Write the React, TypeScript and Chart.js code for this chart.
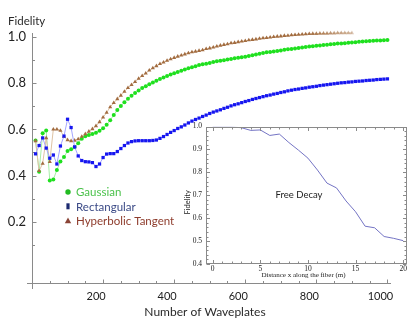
import React, { useEffect, useRef } from 'react';
import { Chart, registerables } from 'chart.js';

Chart.register(...registerables);

// ---------- main chart data ----------
const waveplates = [
  10, 20, 30, 40, 50, 60, 70, 80, 90, 100,
  110, 120, 130, 140, 150, 160, 170, 180, 190, 200,
  210, 220, 230, 240, 250, 260, 270, 280, 290, 300,
  310, 320, 330, 340, 350, 360, 370, 380, 390, 400,
  410, 420, 430, 440, 450, 460, 470, 480, 490, 500,
  510, 520, 530, 540, 550, 560, 570, 580, 590, 600,
  610, 620, 630, 640, 650, 660, 670, 680, 690, 700,
  710, 720, 730, 740, 750, 760, 770, 780, 790, 800,
  810, 820, 830, 840, 850, 860, 870, 880, 890, 900,
  910, 920, 930, 940, 950, 960, 970, 980, 990, 1000,
];

const gaussian = [
  0.552, 0.416, 0.583, 0.595, 0.378, 0.383, 0.424, 0.461, 0.480, 0.506,
  0.514, 0.524, 0.540, 0.560, 0.570, 0.576, 0.580, 0.585, 0.594, 0.605,
  0.620, 0.640, 0.662, 0.684, 0.702, 0.718, 0.733, 0.746, 0.758, 0.769,
  0.780, 0.787, 0.796, 0.803, 0.811, 0.819, 0.825, 0.832, 0.838, 0.843,
  0.849, 0.854, 0.860, 0.865, 0.870, 0.874, 0.879, 0.882, 0.885, 0.888,
  0.892, 0.895, 0.898, 0.900, 0.903, 0.905, 0.908, 0.911, 0.913, 0.915,
  0.918, 0.921, 0.925, 0.928, 0.931, 0.934, 0.936, 0.938, 0.940, 0.942,
  0.945, 0.947, 0.949, 0.951, 0.953, 0.955, 0.957, 0.959, 0.961, 0.963,
  0.964, 0.966, 0.967, 0.969, 0.970, 0.972, 0.973, 0.974, 0.976, 0.977,
  0.978, 0.980, 0.981, 0.982, 0.983, 0.984, 0.985, 0.986, 0.987, 0.988,
];

const rectangular = [
  0.494, 0.530, 0.563, 0.519, 0.475, 0.489, 0.450, 0.528, 0.571, 0.644,
  0.608, 0.524, 0.485, 0.465, 0.460, 0.459, 0.456, 0.439, 0.450, 0.478,
  0.493, 0.495, 0.495, 0.504, 0.517, 0.530, 0.541, 0.547, 0.550, 0.551,
  0.551, 0.551, 0.551, 0.552, 0.554, 0.561, 0.569, 0.578, 0.587, 0.595,
  0.604, 0.611, 0.619, 0.628, 0.636, 0.643, 0.649, 0.656, 0.662, 0.669,
  0.675, 0.680, 0.685, 0.691, 0.696, 0.702, 0.707, 0.711, 0.716, 0.721,
  0.725, 0.730, 0.734, 0.738, 0.742, 0.746, 0.749, 0.753, 0.756, 0.760,
  0.763, 0.767, 0.770, 0.773, 0.775, 0.778, 0.780, 0.783, 0.785, 0.787,
  0.790, 0.792, 0.794, 0.796, 0.798, 0.800, 0.802, 0.803, 0.805, 0.806,
  0.808, 0.809, 0.810, 0.812, 0.813, 0.814, 0.816, 0.817, 0.818, 0.819,
];

// hyperbolic tangent runs from 10 to 900 waveplates
const hyperbolicTangent = [
  0.550, 0.420, 0.452, 0.563, 0.459, 0.600, 0.600, 0.595, 0.569, 0.554,
  0.550, 0.552, 0.558, 0.569, 0.580, 0.591, 0.602, 0.615, 0.632, 0.652,
  0.673, 0.697, 0.715, 0.732, 0.747, 0.764, 0.780, 0.793, 0.806, 0.820,
  0.832, 0.843, 0.856, 0.866, 0.875, 0.884, 0.891, 0.898, 0.905, 0.911,
  0.916, 0.921, 0.926, 0.931, 0.935, 0.938, 0.941, 0.944, 0.949, 0.952,
  0.956, 0.960, 0.964, 0.967, 0.970, 0.974, 0.976, 0.979, 0.982, 0.984,
  0.987, 0.989, 0.991, 0.994, 0.996, 0.997, 0.999, 1.001, 1.003, 1.004,
  1.006, 1.007, 1.009, 1.010, 1.011, 1.012, 1.013, 1.014, 1.015, 1.015,
  1.016, 1.016, 1.016, 1.017, 1.017, 1.018, 1.018, 1.018, 1.018, 1.018,
];

const xTickValues = [200, 400, 600, 800, 1000];
const yTickValues = [0.2, 0.4, 0.6, 0.8, 1.0];
const seriesNames = ['Gaussian', 'Rectangular', 'Hyperbolic Tangent'];
const yAxisTitle = 'Fidelity';
const xAxisTitle = 'Number of Waveplates';

// ---------- inset data ----------
const distance = [0, 1, 2, 3, 4, 5, 6, 7, 8, 9, 10, 11, 12, 13, 14, 15, 16, 17, 18, 19, 20];
const freeDecay = [
  0.997, 0.997, 0.997, 0.995, 0.983, 0.985, 0.961, 0.967, 0.930, 0.897,
  0.862, 0.810, 0.753, 0.732, 0.675, 0.628, 0.565, 0.558, 0.520, 0.512, 0.502,
];
const insetXTicks = [0, 5, 10, 15, 20];
const insetYTicks = [0.4, 0.5, 0.6, 0.7, 0.8, 0.9, 1.0];
const insetXTitle = 'Distance x along the fiber (m)';
const insetYTitle = 'Fidelity';
const insetNote = 'Free Decay';

const SANS = 'Lato, "Open Sans", sans-serif';
const SERIF = '"Liberation Serif", "DejaVu Serif", serif';

const green = { line: '#a6eea6', point: '#1fe01f', text: '#4cc24c', legend: '#22bb22' };
const blue = { line: '#a4a4ff', point: '#1616f0', text: '#3b4a86', legend: '#1c2a70' };
const brown = { line: '#dec3a4', point: '#a26c40', text: '#8e3c2c', legend: '#8a4436' };

const mainDecor = {
  id: 'mainDecor',
  beforeDatasetsDraw(chart: any) {
    const { ctx, chartArea: a, scales } = chart;
    const x = scales.x;
    const y = scales.y;
    ctx.save();
    ctx.strokeStyle = '#8a8a8a';
    ctx.lineWidth = 1;
    const left = Math.round(a.left) + 0.5;
    const bottom = Math.round(a.bottom) + 0.5;
    ctx.beginPath();
    ctx.moveTo(a.left - 5, bottom);
    ctx.lineTo(a.right, bottom);
    ctx.moveTo(left, a.top + 3);
    ctx.lineTo(left, a.bottom + 6);
    ctx.stroke();
    ctx.beginPath();
    for (let v = 50; v <= 1000; v += 50) {
      const px = Math.round(x.getPixelForValue(v)) + 0.5;
      ctx.moveTo(px, bottom);
      ctx.lineTo(px, bottom - (v % 200 === 0 ? 4 : 2.5));
    }
    for (let i = 1; i <= 10; i++) {
      const v = i / 10;
      const py = Math.round(y.getPixelForValue(v)) + 0.5;
      ctx.moveTo(left, py);
      ctx.lineTo(left + (i % 2 === 0 ? 4 : 2.5), py);
    }
    ctx.stroke();
    ctx.restore();
  },
  afterDraw(chart: any) {
    const { ctx } = chart;
    ctx.save();
    ctx.fillStyle = '#2a2a2a';
    ctx.font = `11.5px ${SANS}`;
    ctx.textBaseline = 'middle';
    ctx.textAlign = 'left';
    ctx.fillText(yAxisTitle, 8, 21);
    ctx.font = `12px ${SANS}`;
    ctx.textAlign = 'center';
    ctx.fillText(xAxisTitle, 205, 312);

    const lx = 68;
    const ly = 192;
    const step = 14.3;
    const cols = [green, blue, brown];
    ctx.textAlign = 'left';
    ctx.font = `11.5px ${SANS}`;
    seriesNames.forEach((name, i) => {
      const cy = ly + i * step;
      ctx.fillStyle = cols[i].legend;
      ctx.beginPath();
      if (i === 0) {
        ctx.arc(lx, cy, 2.7, 0, Math.PI * 2);
      } else if (i === 1) {
        ctx.rect(lx - 1.6, cy - 3, 3.2, 6);
      } else {
        ctx.moveTo(lx, cy - 3);
        ctx.lineTo(lx + 3.2, cy + 2.6);
        ctx.lineTo(lx - 3.2, cy + 2.6);
        ctx.closePath();
      }
      ctx.fill();
      ctx.fillStyle = cols[i].text;
      ctx.fillText(name, lx + 8, cy + 0.5);
    });
    ctx.restore();
  },
};

const insetDecor = {
  id: 'insetDecor',
  beforeDraw(chart: any) {
    const { ctx, chartArea: a } = chart;
    ctx.save();
    ctx.fillStyle = '#ffffff';
    ctx.fillRect(a.left, a.top, a.right - a.left, a.bottom - a.top);
    ctx.restore();
  },
  afterDraw(chart: any) {
    const { ctx, chartArea: a, scales } = chart;
    const x = scales.x;
    const y = scales.y;
    ctx.save();
    ctx.strokeStyle = '#8a8a8a';
    ctx.lineWidth = 1;
    const L = Math.round(a.left) + 0.5;
    const R = Math.round(a.right) - 0.5;
    const T = Math.round(a.top) + 0.5;
    const B = Math.round(a.bottom) - 0.5;
    ctx.strokeRect(L, T, R - L, B - T);
    ctx.beginPath();
    for (let v = 0; v <= 20; v += 1) {
      const px = Math.round(x.getPixelForValue(v)) + 0.5;
      const len = v % 5 === 0 ? 3.5 : 2;
      ctx.moveTo(px, B);
      ctx.lineTo(px, B - len);
      ctx.moveTo(px, T);
      ctx.lineTo(px, T + len);
    }
    for (let i = 20; i <= 50; i += 1) {
      const v = i / 50;
      const py = Math.round(y.getPixelForValue(v)) + 0.5;
      const len = i % 5 === 0 ? 3.5 : 2;
      ctx.moveTo(L, py);
      ctx.lineTo(L + len, py);
      ctx.moveTo(R, py);
      ctx.lineTo(R - len, py);
    }
    ctx.stroke();

    ctx.fillStyle = '#222';
    ctx.textBaseline = 'middle';
    ctx.textAlign = 'left';
    ctx.font = `9.5px ${SANS}`;
    ctx.fillText(insetNote, x.getPixelForValue(6.6), y.getPixelForValue(0.7));

    ctx.font = `7px ${SERIF}`;
    ctx.textAlign = 'center';
    ctx.fillText(insetXTitle, (a.left + a.right) / 2 - 3, a.bottom + 11.5);

    ctx.translate(8, (a.top + a.bottom) / 2 + 7);
    ctx.rotate(-Math.PI / 2);
    ctx.font = `7.5px ${SANS}`;
    ctx.fillText(insetYTitle, 0, 0);
    ctx.restore();
  },
};

export default function App() {
  const mainRef = useRef<HTMLCanvasElement | null>(null);
  const insetRef = useRef<HTMLCanvasElement | null>(null);

  useEffect(() => {
    const mk = (vals: number[]) => vals.map((v, i) => ({ x: waveplates[i], y: v }));
    const brownFade = (ctx: any) => {
      const i = ctx.dataIndex ?? 0;
      if (i < 76) return brown.point;
      const t = Math.min(1, (i - 76) / 13);
      const a = 1 - 0.6 * t;
      return `rgba(162,108,64,${a.toFixed(2)})`;
    };
    const main = new Chart(mainRef.current as HTMLCanvasElement, {
      type: 'line',
      data: {
        datasets: [
          {
            label: seriesNames[1],
            data: mk(rectangular),
            borderColor: blue.line,
            borderWidth: 1,
            pointStyle: 'rect',
            pointRadius: 2.3,
            pointBackgroundColor: blue.point,
            pointBorderWidth: 0,
            tension: 0,
          },
          {
            label: seriesNames[2],
            data: mk(hyperbolicTangent),
            borderColor: brown.line,
            borderWidth: 1,
            pointStyle: 'triangle',
            pointRadius: 2.4,
            pointBackgroundColor: brownFade,
            pointBorderWidth: 0,
            tension: 0,
          },
          {
            label: seriesNames[0],
            data: mk(gaussian),
            borderColor: green.line,
            borderWidth: 1,
            pointStyle: 'circle',
            pointRadius: 2,
            pointBackgroundColor: green.point,
            pointBorderWidth: 0,
            tension: 0,
          },
        ],
      },
      options: {
        animation: false,
        responsive: false,
        maintainAspectRatio: false,
        layout: { padding: { top: 30, right: 24, left: 0, bottom: 0 } },
        plugins: { legend: { display: false }, tooltip: { enabled: false } },
        scales: {
          x: {
            type: 'linear',
            min: 0,
            max: 1010,
            grid: { display: false, drawTicks: false },
            border: { display: false },
            afterBuildTicks: (s: any) => {
              s.ticks = xTickValues.map((v) => ({ value: v }));
            },
            afterFit: (s: any) => {
              s.height = 49;
            },
            ticks: {
              padding: 7,
              labelOffset: -7,
              autoSkip: false,
              maxRotation: 0,
              color: '#222',
              font: { family: SANS, size: 11 },
              callback: (v: any) => String(v),
            },
          },
          y: {
            type: 'linear',
            min: -0.066,
            max: 1.031,
            grid: { display: false, drawTicks: false },
            border: { display: false },
            afterBuildTicks: (s: any) => {
              s.ticks = yTickValues.map((v) => ({ value: v }));
            },
            afterFit: (s: any) => {
              s.width = 32;
            },
            ticks: {
              padding: 6,
              autoSkip: false,
              color: '#222',
              font: { family: SANS, size: 13 },
              callback: (v: any) => Number(v).toFixed(1),
            },
          },
        },
      },
      plugins: [mainDecor],
    });

    const inset = new Chart(insetRef.current as HTMLCanvasElement, {
      type: 'line',
      data: {
        datasets: [
          {
            label: insetNote,
            data: distance.map((d, i) => ({ x: d, y: freeDecay[i] })),
            borderColor: '#7474c4',
            borderWidth: 1,
            pointRadius: 0,
            tension: 0,
          },
        ],
      },
      options: {
        animation: false,
        responsive: false,
        maintainAspectRatio: false,
        layout: { padding: { top: 7, right: 5, left: 0, bottom: 0 } },
        plugins: { legend: { display: false }, tooltip: { enabled: false } },
        scales: {
          x: {
            type: 'linear',
            min: -0.7,
            max: 20.4,
            grid: { display: false, drawTicks: false },
            border: { display: false },
            afterBuildTicks: (s: any) => {
              s.ticks = insetXTicks.map((v) => ({ value: v }));
            },
            afterFit: (s: any) => {
              s.height = 16;
            },
            ticks: {
              padding: 1,
              autoSkip: false,
              maxRotation: 0,
              color: '#222',
              font: { family: SERIF, size: 7.5 },
              callback: (v: any) => String(v),
            },
          },
          y: {
            type: 'linear',
            min: 0.4,
            max: 1.0,
            grid: { display: false, drawTicks: false },
            border: { display: false },
            afterBuildTicks: (s: any) => {
              s.ticks = insetYTicks.map((v) => ({ value: v }));
            },
            afterFit: (s: any) => {
              s.width = 26;
            },
            ticks: {
              padding: 4,
              autoSkip: false,
              color: '#222',
              font: { family: SERIF, size: 7.5 },
              callback: (v: any) => Number(v).toFixed(1),
            },
          },
        },
      },
      plugins: [insetDecor],
    });

    return () => {
      main.destroy();
      inset.destroy();
    };
  }, []);

  return (
    <div style={{ position: 'fixed', left: 0, top: 0, width: 415, height: 332, background: '#fff' }}>
      <canvas
        ref={mainRef}
        width={415}
        height={332}
        style={{ position: 'absolute', left: 0, top: 0, width: 415, height: 332 }}
      />
      <canvas
        ref={insetRef}
        width={232}
        height={162}
        style={{ position: 'absolute', left: 180, top: 118, width: 232, height: 162 }}
      />
    </div>
  );
}
